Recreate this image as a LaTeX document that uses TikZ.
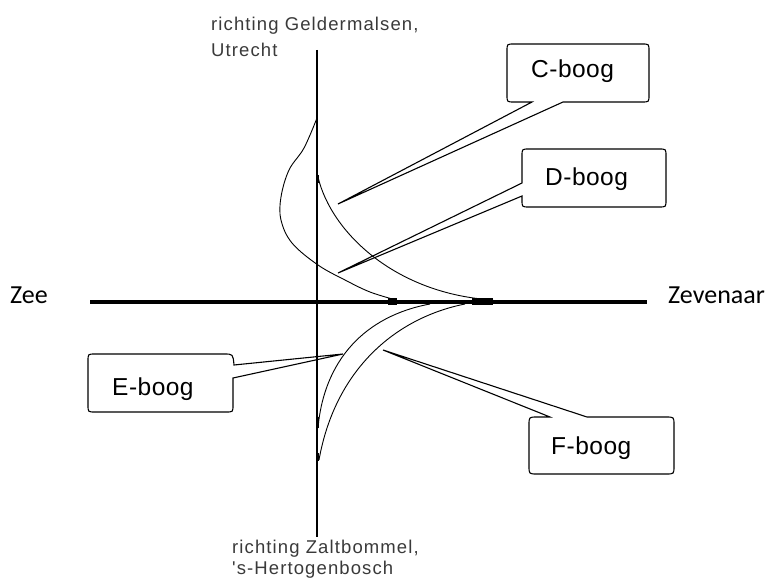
\documentclass[tikz,border=0pt]{standalone}
\usepackage{fontspec}
\setmainfont{Liberation Sans}
\newfontfamily\roadfont[LetterSpace=6]{Liberation Sans}
\newfontfamily\boxfont[LetterSpace=2]{Liberation Sans}
\newfontfamily\placefont{Carlito}
\definecolor{roadtxt}{HTML}{3A3A3A}
\begin{document}
\begin{tikzpicture}[x=1pt,y=-1pt,
  roadlbl/.style={anchor=base west,inner sep=0pt,text=roadtxt,font=\roadfont\fontsize{18.5}{20}\selectfont},
  placelbl/.style={anchor=base west,inner sep=0pt,font=\placefont\fontsize{26}{28}\selectfont},
  boxlbl/.style={anchor=base west,inner sep=0pt,font=\boxfont\fontsize{24.5}{26}\selectfont},
  curve/.style={line width=0.9pt},
  callout/.style={line width=1.1pt,line join=miter},
  blob/.style={line width=2.6pt}]
\useasboundingbox (0,0) rectangle (781,585);

% main lines
\coordinate (vtop) at (317,50);
\coordinate (vbot) at (317,537);
\coordinate (hl) at (90,302);
\coordinate (hr) at (647,302);
\draw[line width=1.3pt] (vtop) -- (vbot);
\draw[line width=4.6pt] (hl) -- (hr);

% labels on lines
\node[roadlbl] (topA) at (211,31) {richting Geldermalsen,};
\node[roadlbl] (topB) at (211,57) {Utrecht};
\node[roadlbl] (botA) at (232,553) {richting Zaltbommel,};
\node[roadlbl] (botB) at (232,574) {'s-Hertogenbosch};
\node[placelbl] (zee) at (10,303) {Zee};
\node[placelbl] (zev) at (668,303) {Zevenaar};

% curves
% C-boog
\draw[curve] (318,177) .. controls (331,232) and (395,294) .. (493,300);
% D-boog (loop to the left)
\draw[curve] plot[smooth,tension=0.6] coordinates {(317,118) (304,148) (289,170) (281,197) (281,220) (292,243) (318,265) (345,280) (370,292) (396,300)};
% E-boog
\draw[curve] (430,304) .. controls (365,316) and (324,360) .. (318,428);
% F-boog
\draw[curve] (465,304) .. controls (395,318) and (335,370) .. (319,460);

% small thick joins
\draw[blob] (317,110) -- (317,125);
\draw[blob] (318,175) -- (318,183);
\draw[blob] (318,417) -- (318,428);
\draw[blob] (318,453) -- (318,461);
\draw[line width=7pt] (388,301.5) -- (397,301.5);
\draw[line width=7pt] (472,301.5) -- (493,301.5);

% callout tips
\coordinate (Ctip) at (338,204);
\coordinate (Dtip) at (338,273);
\coordinate (Etip) at (343,354);
\coordinate (Ftip) at (383,350);

% C-boog callout
\draw[callout] (514,44) -- (642,44) .. controls (649,44) .. (649,51) -- (649,95)
  .. controls (649,102) .. (642,102) -- (563,102) -- (Ctip) -- (532,102) -- (514,102)
  .. controls (507,102) .. (507,95) -- (507,51) .. controls (507,44) .. (514,44) -- cycle;
\node[boxlbl] (Clbl) at (531,78) {C-boog};

% D-boog callout
\draw[callout] (529,149) -- (659,149) .. controls (666,149) .. (666,156) -- (666,200)
  .. controls (666,207) .. (659,207) -- (529,207) .. controls (522,207) .. (522,200)
  -- (522,196) -- (Dtip) -- (522,183) -- (522,156) .. controls (522,149) .. (529,149) -- cycle;
\node[boxlbl] (Dlbl) at (545,186) {D-boog};

% E-boog callout
\draw[callout] (95,354) -- (224,354) .. controls (233,354) .. (234,365) -- (Etip) -- (233,378)
  -- (233,405) .. controls (233,412) .. (226,412) -- (95,412) .. controls (88,412) .. (88,405)
  -- (88,361) .. controls (88,354) .. (95,354) -- cycle;
\node[boxlbl] (Elbl) at (112,395) {E-boog};

% F-boog callout
\draw[callout] (537,417) -- (550,417) -- (Ftip) -- (587,417) -- (666,417)
  .. controls (674,417) .. (674,425) -- (674,466) .. controls (674,474) .. (666,474)
  -- (537,474) .. controls (529,474) .. (529,466) -- (529,425) .. controls (529,417) .. (537,417) -- cycle;
\node[boxlbl] (Flbl) at (551,454) {F-boog};
\end{tikzpicture}
\end{document}
